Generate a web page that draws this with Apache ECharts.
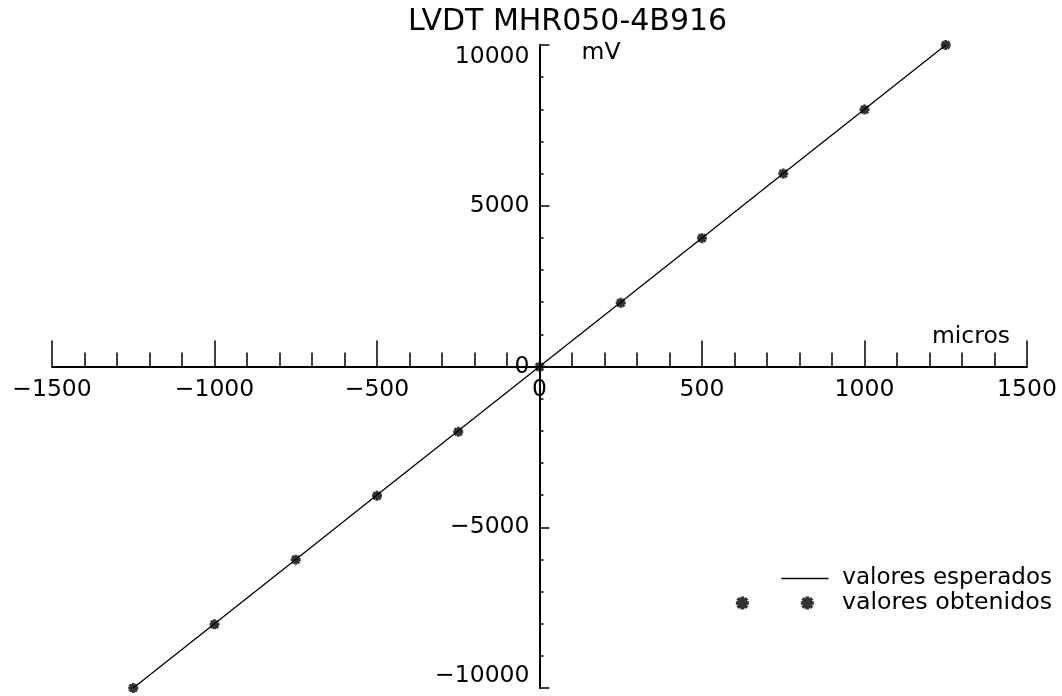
<!DOCTYPE html>
<html>
<head>
<meta charset="utf-8">
<script src="https://cdn.jsdelivr.net/npm/echarts@6/dist/echarts.min.js"></script>
<style>
  html, body { margin: 0; padding: 0; background: #fff; }
  #chart { width: 1062px; height: 696px; }
</style>
</head>
<body>
<div id="chart"></div>
<script>
// LVDT calibration: displacement (micros) against output (mV)
const chartTitle = 'LVDT MHR050-4B916';
const micros = [-1250, -1000, -750, -500, -250, 0, 250, 500, 750, 1000, 1250];
const esperados = [-10000, -8000, -6000, -4000, -2000, 0, 2000, 4000, 6000, 8000, 10000];
const obtenidos = [-10000, -8020, -6010, -4020, -2030, -10, 1980, 3990, 6000, 7990, 10000];
const seriesNames = ['valores esperados', 'valores obtenidos'];
const xTicks = { min: -1500, max: 1500, step: 500 };
const yTicks = { min: -10000, max: 10000, step: 5000 };

// heavy asterisk used for the measured points (10 x 10 box)
const star = 'M3.6,0 L6.4,0 L6.4,10 L3.6,10 Z M0,3.6 L10,3.6 L10,6.4 L0,6.4 Z ' +
  'M0.4,2.4 L2.4,0.4 L9.6,7.6 L7.6,9.6 Z M7.6,0.4 L9.6,2.4 L2.4,9.6 L0.4,7.6 Z';
// legend key: two asterisks side by side (second one shifted 50 units)
const starPair = 'path://' + star + ' M53.6,0 L56.4,0 L56.4,10 L53.6,10 Z M50,3.6 L60,3.6 L60,6.4 L50,6.4 Z ' +
  'M50.4,2.4 L52.4,0.4 L59.6,7.6 L57.6,9.6 Z M57.6,0.4 L59.6,2.4 L52.4,9.6 L50.4,7.6 Z';

const digitFont = { fontFamily: 'DejaVu Sans', fontSize: 23.5, color: '#000' };
const wordFont = { fontFamily: 'DejaVu Sans', fontSize: 23.5, color: '#000' };
const minus = v => String(v).replace('-', '\u2212');

const pairs = (xs, ys) => xs.map((x, i) => [x, ys[i]]);

const chart = echarts.init(document.getElementById('chart'), null, { renderer: 'canvas' });
chart.setOption({
  backgroundColor: '#fff',
  animation: false,
  title: {
    text: chartTitle,
    left: 408,
    top: 7,
    padding: 0,
    textStyle: { fontFamily: 'DejaVu Sans', fontSize: 30, fontWeight: 'normal', color: '#000' }
  },
  legend: [
    {
      data: [{ name: seriesNames[0], icon: 'rect' }],
      right: 10, top: 567, padding: 0,
      align: 'left', orient: 'horizontal',
      itemWidth: 47, itemHeight: 1.4, itemGap: 0,
      textStyle: Object.assign({}, wordFont, { fontSize: 23, padding: [0, 0, 0, 9] })
    },
    {
      data: [{ name: seriesNames[1], icon: starPair }],
      right: 10, top: 591, padding: 0,
      align: 'left', orient: 'horizontal',
      itemWidth: 78, itemHeight: 13, itemGap: 0,
      textStyle: Object.assign({}, wordFont, { fontSize: 23.7, padding: [0, 0, 0, 23] })
    }
  ],
  grid: { left: 52, right: 35, top: 45, bottom: 8, outerBoundsMode: 'none' },
  xAxis: {
    type: 'value',
    position: 'bottom',
    min: xTicks.min, max: xTicks.max, interval: xTicks.step,
    name: 'micros',
    nameLocation: 'end',
    nameGap: -17,
    nameMoveOverlap: false,
    nameTextStyle: Object.assign({ align: 'right', verticalAlign: 'bottom', padding: [0, 0, 18, 0] }, wordFont),
    axisLine: { show: true, onZero: false, lineStyle: { color: '#000', width: 2 } },
    axisTick: { show: true, inside: true, length: 26, lineStyle: { color: '#000', width: 1.5 } },
    minorTick: { show: true, splitNumber: 5, length: 14, lineStyle: { color: '#000', width: 1.5 } },
    axisLabel: Object.assign({ margin: 11, formatter: minus }, digitFont),
    splitLine: { show: false },
    minorSplitLine: { show: false }
  },
  yAxis: {
    type: 'value',
    position: 'left',
    min: yTicks.min, max: yTicks.max, interval: yTicks.step,
    name: 'mV',
    nameLocation: 'end',
    nameGap: -8,
    nameMoveOverlap: false,
    nameTextStyle: Object.assign({ align: 'left', verticalAlign: 'middle', padding: [0, 0, 0, 42] }, wordFont),
    axisLine: { show: true, onZero: false, lineStyle: { color: '#000', width: 2 } },
    axisTick: { show: true, inside: true, length: 10, lineStyle: { color: '#000', width: 1.5 } },
    minorTick: { show: true, splitNumber: 5, length: 4, lineStyle: { color: '#000', width: 1.5 } },
    axisLabel: Object.assign({
      margin: 10, formatter: minus,
      verticalAlignMaxLabel: 'top', verticalAlignMinLabel: 'bottom'
    }, digitFont),
    splitLine: { show: false },
    minorSplitLine: { show: false }
  },
  series: [
    {
      name: seriesNames[0],
      type: 'line',
      data: pairs(micros, esperados),
      symbol: 'none',
      lineStyle: { color: '#000', width: 1.3 },
      itemStyle: { color: '#000' },
      z: 2
    },
    {
      name: seriesNames[1],
      type: 'scatter',
      data: pairs(micros, obtenidos),
      symbol: 'path://' + star,
      symbolSize: 10,
      clip: false,
      itemStyle: { color: '#000' },
      z: 3
    }
  ]
});

// Put both axes (line, ticks and labels) through the origin of the plot.
const gridLeftPx = chart.convertToPixel({ xAxisIndex: 0 }, xTicks.min);
const gridBottomPx = chart.convertToPixel({ yAxisIndex: 0 }, yTicks.min);
const originX = chart.convertToPixel({ xAxisIndex: 0 }, 0);
const originY = chart.convertToPixel({ yAxisIndex: 0 }, 0);
chart.setOption({
  xAxis: { offset: -(gridBottomPx - originY) },
  yAxis: { offset: -(originX - gridLeftPx) }
});
</script>
</body>
</html>
